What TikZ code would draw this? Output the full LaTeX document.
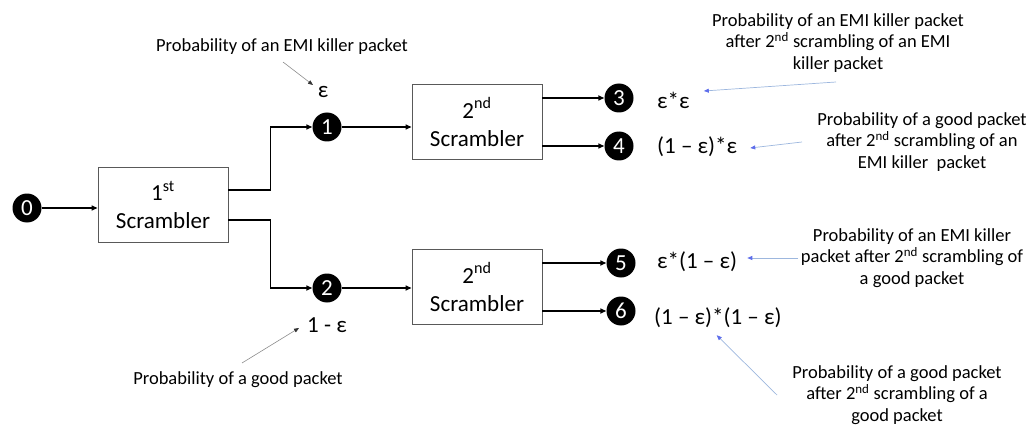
\documentclass[tikz,border=0pt]{standalone}
\usepackage{fontspec}
\setmainfont{Carlito}
\usetikzlibrary{arrows.meta}
\definecolor{noteblue}{HTML}{9DB7DE}

\begin{document}
\begin{tikzpicture}[x=1pt,y=-1pt,
  num/.style={circle,fill=black,text=white,inner sep=0pt,minimum size=29pt,font=\fontsize{23}{23}\selectfont},
  scrbox/.style={draw=black!65,line width=0.9pt,align=center,minimum width=130pt,minimum height=75pt,font=\fontsize{23}{28}\selectfont},
  conn/.style={line width=1.6pt,-{Triangle[length=6pt,width=5pt]}},
  note/.style={black!45,line width=0.6pt,-{Triangle[length=5pt,width=4pt,color=black!80]}},
  bnote/.style={noteblue,line width=0.7pt,-{Triangle[length=5pt,width=4pt,color=noteblue!60!blue]}},
  txt/.style={align=center,font=\fontsize{18.5}{21.5}\selectfont},
  prob/.style={inner sep=2pt,font=\fontsize{23}{26}\selectfont}]
\useasboundingbox (0,0) rectangle (1036,425);

%etages de brouillage
\node[num] (n0) at (27,208) {0};
\node[scrbox] (s1) at (163,205) {1\textsuperscript{st}\\Scrambler};
\node[num] (n1) at (327,127) {1};
\node[num] (n2) at (327,288) {2};
\node[scrbox] (s2a) at (477,122) {2\textsuperscript{nd}\\Scrambler};
\node[scrbox] (s2b) at (477,287) {2\textsuperscript{nd}\\Scrambler};
\node[num] (n3) at (619,98) {3};
\node[num] (n4) at (619,146) {4};
\node[num] (n5) at (621,263) {5};
\node[num] (n6) at (621,311) {6};

\draw[conn] (n0) -- (n0 -| s1.west);
\draw[conn] ([yshift=15pt]s1.east) -- ++(42,0) |- (n1);
\draw[conn] ([yshift=-15pt]s1.east) -- ++(42,0) |- (n2);
\draw[conn] (n1) -- (n1 -| s2a.west);
\draw[conn] (n2) -- (n2 -| s2b.west);
\draw[conn] (n3 -| s2a.east) -- (n3);
\draw[conn] (n4 -| s2a.east) -- (n4);
\draw[conn] (n5 -| s2b.east) -- (n5);
\draw[conn] (n6 -| s2b.east) -- (n6);

%probabilites
\node[prob] (e1) at (323,92) {ε};
\node[prob] (e2) at (327,325) {1 - ε};
\node[prob,anchor=west] (e3) at (655,100) {ε*ε};
\node[prob,anchor=west] (e4) at (655,147) {(1 – ε)*ε};
\node[prob,anchor=west] (e5) at (655,262) {ε*(1 – ε)};
\node[prob,anchor=west] (e6) at (652,318) {(1 – ε)*(1 – ε)};

%annotations
\node[txt] (t1) at (282,47) {Probability of an EMI killer packet};
\node[txt] (t2) at (238,380) {Probability of a good packet};
\node[txt] (t3) at (838,43) {Probability of an EMI killer packet\\after 2\textsuperscript{nd} scrambling of an EMI\\killer packet};
\node[txt] (t4) at (922,142) {Probability of a good packet\\after 2\textsuperscript{nd} scrambling of an\\EMI killer\ \ packet};
\node[txt] (t5) at (912,258) {Probability of an EMI killer\\packet after 2\textsuperscript{nd} scrambling of\\a good packet};
\node[txt] (t6) at (897,395) {Probability of a good packet\\after 2\textsuperscript{nd} scrambling of a\\good packet};

\coordinate (c1) at (283,62);
\coordinate (c2) at (242,363);
\coordinate (c3) at (836,82);
\coordinate (c4) at (802,142);
\coordinate (c5) at (798,258);
\coordinate (c6) at (777,395);
\draw[note] (c1) -- ([xshift=-10pt,yshift=7pt]e1.center);
\draw[note] (c2) -- ([xshift=-6pt,yshift=-3pt]e2.west);
\draw[bnote] (c3) -- ([xshift=12pt,yshift=9pt]e3.east);
\draw[bnote] (c4) -- ([xshift=11pt,yshift=-1pt]e4.east);
\draw[bnote] (c5) -- ([xshift=8pt,yshift=4pt]e5.east);
\draw[bnote] (c6) -- ([xshift=-67pt,yshift=-5pt]e6.south east);
\end{tikzpicture}
\end{document}
